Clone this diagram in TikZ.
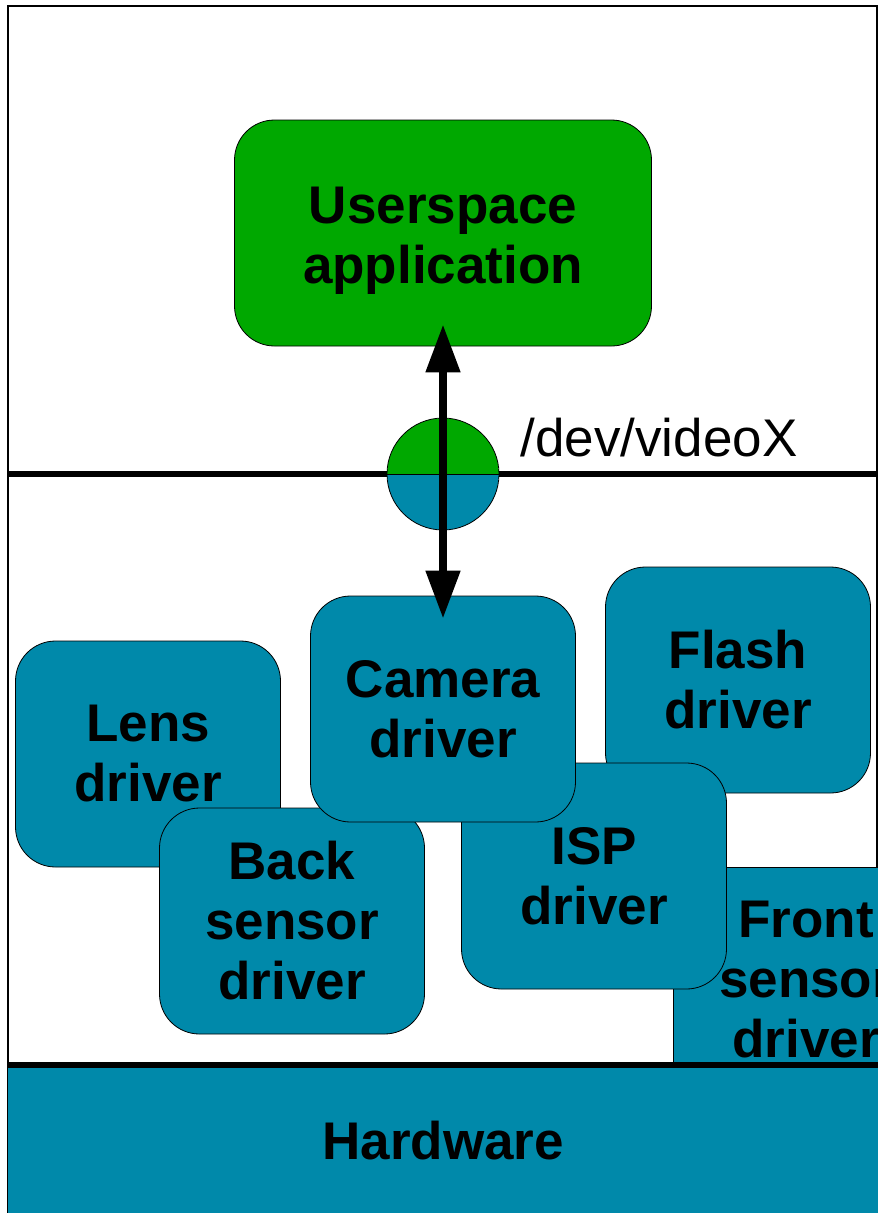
\documentclass[tikz,border=0pt]{standalone}
\usepackage{fontspec}
\setmainfont{Liberation Sans}
\usetikzlibrary{arrows.meta,positioning}

\definecolor{appgreen}{RGB}{0,168,0}
\definecolor{drvblue}{RGB}{0,137,170}

\tikzset{
    box/.style={draw, line width=0.8pt, rounded corners=40pt, minimum width=265pt,
        minimum height=226pt, align=center, font=\fontsize{53}{60}\selectfont\bfseries},
    drv/.style={box, fill=drvblue},
    layer/.style={line width=6.5pt},
}

\begin{document}
\begin{tikzpicture}[x=1pt, y=-1pt]
    \useasboundingbox (0,0) rectangle (878,1213);
    \draw[line width=1.5pt] (8,1213) -- (8,6) -- (877,6) -- (877,1213);

    % kernel drivers
    \node[drv] (lens) at (148,754) {Lens\\driver};
    \node[drv] (back) at (292,921) {Back\\sensor\\driver};
    \node[drv] (flash) at (738,680) {Flash\\driver};
    \begin{scope}
        \clip (8,6) rectangle (878,1064);
        \node[drv, rounded corners=0pt] (front) at (806,980) {Front\\sensor\\driver};
    \end{scope}
    \node[drv] (isp) at (594,876) {ISP\\driver};
    \node[drv] (cam) at (443,709) {Camera\\driver};

    % userspace
    \node[box, fill=appgreen, minimum width=417pt,
        label={[align=center, font=\fontsize{53}{60}\selectfont\bfseries, yshift=-8pt]center:Userspace\\application}]
        (app) at (443,233) {};

    \coordinate (uw) at (8,474);
    \coordinate (ue) at (878,474);
    \coordinate (hwn) at (8,1065);
    \coordinate (hwe) at (878,1065);
    \node[fill=drvblue, minimum width=870pt, minimum height=145pt, anchor=north west,
        font=\fontsize{53}{60}\selectfont\bfseries] (hw) at (8,1068) {Hardware};
    \draw[layer] (uw) -- (ue);
    \draw[layer] (hwn) -- (hwe);

    \node[circle, draw, line width=0.8pt, minimum size=112pt, inner sep=0pt,
        path picture={
            \fill[appgreen] (path picture bounding box.north west) rectangle (path picture bounding box.east);
            \fill[drvblue] (path picture bounding box.west) rectangle (path picture bounding box.south east);
        }] (port) at (443,474) {};
    \draw[line width=1pt] (port.west) -- (port.east);
    \node[anchor=base west, font=\fontsize{53}{60}\selectfont] (dev) at (517,456) {/dev/videoX};

    \draw[line width=8pt, {Triangle[length=48pt,width=33pt]}-{Triangle[length=48pt,width=33pt]},
        shorten <=-22pt, shorten >=-23pt] (app.south) -- (cam.north);
\end{tikzpicture}
\end{document}
